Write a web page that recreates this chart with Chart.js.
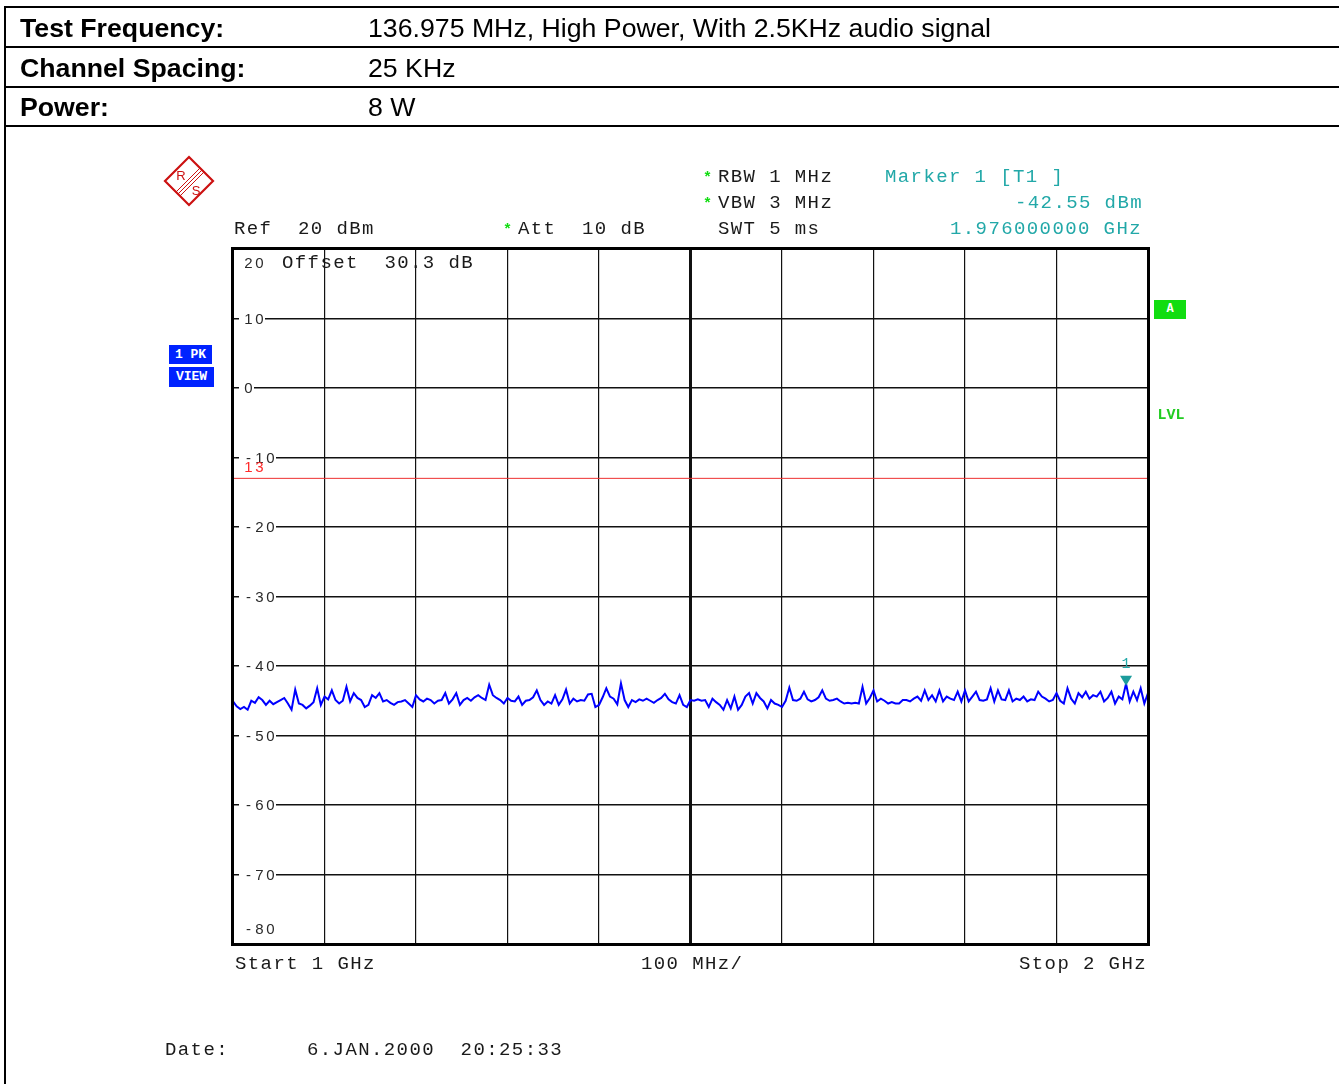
<!DOCTYPE html>
<html>
<head>
<meta charset="utf-8">
<script src="https://cdn.jsdelivr.net/npm/chart.js@4"></script>
<style>
  html, body { margin: 0; padding: 0; background: #fff; }
  body { width: 1339px; height: 1084px; position: relative; overflow: hidden; }
  #plot { position: absolute; left: 0; top: 0; z-index: 0; }
  .rule { position: absolute; background: #000; z-index: 1; }
  .hd { position: absolute; z-index: 2; font-family: "Liberation Sans", Arial, sans-serif; font-size: 26.7px; line-height: 26px; color: #000; white-space: pre; }
  .hd b { font-weight: bold; }
  .m { position: absolute; z-index: 2; font-family: "Liberation Mono", monospace; font-size: 19px; line-height: 19px; letter-spacing: 1.4px; white-space: pre; color: #1a1a1a; }
  .teal { color: #22a8a8; }
  .star { position: absolute; z-index: 2; font-family: "Liberation Mono", monospace; font-size: 15px; line-height: 15px; font-weight: bold; color: #11dd11; }
  .tag { position: absolute; z-index: 2; font-family: "Liberation Mono", monospace; font-weight: bold; color: #fff; text-align: center; white-space: pre; }
</style>
</head>
<body>
<canvas id="plot" width="1339" height="1084"></canvas>

<!-- header table -->
<div class="rule" style="left:4px;top:6px;width:1335px;height:2px"></div>
<div class="rule" style="left:4px;top:46px;width:1335px;height:2px"></div>
<div class="rule" style="left:4px;top:86px;width:1335px;height:2px"></div>
<div class="rule" style="left:4px;top:125px;width:1335px;height:2px"></div>
<div class="rule" style="left:4px;top:6px;width:2px;height:1078px"></div>
<div class="hd" style="left:20px;top:15px"><b>Test Frequency:</b></div>
<div class="hd" style="left:368px;top:15px">136.975 MHz, High Power, With 2.5KHz audio signal</div>
<div class="hd" style="left:20px;top:55px"><b>Channel Spacing:</b></div>
<div class="hd" style="left:368px;top:55px">25 KHz</div>
<div class="hd" style="left:20px;top:94px"><b>Power:</b></div>
<div class="hd" style="left:368px;top:94px">8 W</div>

<!-- instrument logo -->
<svg style="position:absolute;left:160px;top:152px;z-index:2" width="60" height="60" viewBox="160 152 60 60">
  <polygon points="189,157 213,181 189,205 165,181" fill="none" stroke="#cc1111" stroke-width="2.2"/>
  <line x1="200" y1="168" x2="176" y2="192" stroke="#cc1111" stroke-width="1"/>
  <line x1="202" y1="170" x2="178" y2="194" stroke="#cc1111" stroke-width="1"/>
  <line x1="204" y1="172" x2="180" y2="196" stroke="#cc1111" stroke-width="1"/>
  <text x="181" y="180" font-family="Liberation Sans, Arial" font-size="13" fill="#cc1111" text-anchor="middle">R</text>
  <text x="196" y="195" font-family="Liberation Sans, Arial" font-size="13" fill="#cc1111" text-anchor="middle">S</text>
</svg>

<!-- settings -->
<div class="star" style="left:703px;top:171px">*</div>
<div class="star" style="left:703px;top:197px">*</div>
<div class="star" style="left:503px;top:223px">*</div>
<div class="m" style="left:718px;top:167.6px">RBW 1 MHz</div>
<div class="m" style="left:718px;top:193.6px">VBW 3 MHz</div>
<div class="m" style="left:718px;top:219.6px">SWT 5 ms</div>
<div class="m" style="left:234px;top:219.6px">Ref  20 dBm</div>
<div class="m" style="left:518px;top:219.6px">Att  10 dB</div>
<div class="m teal" style="left:885px;top:167.6px">Marker 1 [T1 ]</div>
<div class="m teal" id="mkLevel" style="left:1015px;top:193.6px"></div>
<div class="m teal" id="mkFreq" style="left:950px;top:219.6px"></div>
<div class="m" style="left:282px;top:253.6px">Offset  30.3 dB</div>

<div class="tag" style="left:169px;top:345px;width:43px;height:19px;line-height:19px;font-size:13px;background:#0022ff">1 PK</div>
<div class="tag" style="left:169px;top:367px;width:45px;height:20px;line-height:20px;font-size:13px;background:#0022ff">VIEW</div>
<div class="tag" style="left:1154px;top:300px;width:32px;height:19px;line-height:19px;font-size:12px;background:#11dd11">A</div>
<div class="tag" style="left:1152px;top:406px;width:38px;height:20px;line-height:20px;font-size:15px;color:#22cc22">LVL</div>

<div class="m" style="left:235px;top:954.6px">Start 1 GHz</div>
<div class="m" style="left:641px;top:954.6px">100 MHz/</div>
<div class="m" style="left:1019px;top:954.6px">Stop 2 GHz</div>
<div class="m" style="left:165px;top:1040.6px">Date:</div>
<div class="m" style="left:307px;top:1040.6px">6.JAN.2000  20:25:33</div>

<script>
// Sweep settings (MHz) and level axis (dBm)
const sweepStartMHz = 1000;
const sweepStopMHz = 2000;
const sweepStepMHz = 4;
const levelTicks = [20, 10, 0, -10, -20, -30, -40, -50, -60, -70, -80];
const limitLineDbm = -13;
const limitLineName = '13';

// Trace 1, max peak, one value per sweep step
const traceLevels = [
  -45.1, -45.8, -46.2, -45.9, -46.3, -45.0, -45.3, -44.5, -44.9, -45.6,
  -45.0, -45.5, -45.2, -44.9, -44.6, -45.4, -46.3, -43.4, -45.4, -45.6,
  -46.1, -45.7, -45.2, -43.2, -45.6, -44.4, -44.8, -43.5, -44.9, -45.4,
  -45.0, -43.0, -45.1, -43.9, -44.6, -44.9, -45.9, -45.6, -44.2, -44.6,
  -43.9, -45.1, -44.9, -45.3, -45.6, -45.2, -45.1, -44.9, -45.4, -45.9,
  -44.2, -44.8, -45.1, -44.7, -44.9, -45.4, -45.0, -44.9, -43.9, -45.4,
  -44.8, -43.9, -45.6, -44.9, -44.6, -45.0, -44.5, -44.2, -44.6, -44.9,
  -42.7, -44.2, -44.6, -44.9, -45.4, -44.6, -45.0, -45.1, -44.4, -45.6,
  -45.0, -44.9, -44.5, -43.5, -44.9, -45.6, -45.1, -45.4, -44.2, -45.6,
  -44.8, -43.4, -45.4, -44.7, -45.1, -44.9, -45.0, -44.1, -44.0, -45.9,
  -45.6, -44.5, -43.2, -44.4, -44.7, -45.5, -42.5, -44.9, -45.9, -44.9,
  -45.2, -44.8, -45.0, -44.7, -45.0, -45.3, -44.9, -44.6, -44.0, -44.8,
  -45.2, -45.4, -44.2, -45.6, -45.9, -44.9, -45.0, -44.8, -45.0, -44.9,
  -45.9, -44.7, -45.2, -45.6, -46.3, -44.9, -46.1, -44.4, -46.3, -45.6,
  -44.4, -43.9, -45.4, -43.9, -44.6, -45.1, -46.1, -44.9, -45.4, -45.6,
  -45.9, -45.0, -43.1, -44.9, -45.0, -44.7, -43.7, -44.8, -45.1, -44.9,
  -44.5, -43.5, -44.7, -45.0, -44.9, -44.7, -45.1, -45.4, -45.3, -45.4,
  -45.3, -45.4, -43.0, -45.4, -44.6, -43.5, -45.1, -44.7, -45.0, -45.4,
  -45.2, -45.4, -45.4, -44.9, -44.9, -45.1, -44.7, -44.4, -45.0, -43.5,
  -44.9, -44.2, -45.1, -43.5, -45.1, -44.4, -44.7, -44.9, -43.7, -45.1,
  -43.5, -45.1, -44.4, -43.7, -44.9, -45.0, -44.8, -43.2, -45.1, -43.5,
  -44.8, -44.9, -43.5, -45.1, -44.7, -44.9, -44.4, -45.1, -44.8, -44.9,
  -43.7, -44.4, -44.7, -45.1, -44.9, -43.9, -45.0, -45.4, -43.2, -44.7,
  -45.4, -43.9, -44.5, -43.7, -44.7, -44.2, -44.4, -43.7, -45.1, -44.6,
  -43.7, -45.4, -44.4, -44.8, -42.55, -45.1, -43.7, -44.9, -43.2, -45.4,
  -43.9
];

// Marker 1 on trace 1
const markerFreqMHz = 1976;
const markerLevelDbm = -42.55;
const markerName = '1';

document.getElementById('mkLevel').textContent = markerLevelDbm.toFixed(2) + ' dBm';
document.getElementById('mkFreq').textContent = (markerFreqMHz / 1000).toFixed(9) + ' GHz';

const traceData = traceLevels.map((v, i) => ({ x: sweepStartMHz + i * sweepStepMHz, y: v }));
const centerMHz = (sweepStartMHz + sweepStopMHz) / 2;

// level labels drawn inside the grid, one fixed-width cell per character
function drawCells(ctx, text, x0, yMid, color, cut) {
  const cell = 11;
  if (cut) {
    ctx.fillStyle = '#fff';
    ctx.fillRect(x0 - 4, yMid - 7, text.length * cell + 4, 14);
  }
  ctx.fillStyle = color;
  [...text].forEach((ch, i) => ctx.fillText(ch, x0 + cell * i + cell / 2, yMid));
}

const panelPlugin = {
  id: 'panel',
  afterDraw(chart) {
    const { ctx, chartArea: a, scales: { x, y } } = chart;
    ctx.save();
    ctx.font = '15px "Liberation Sans", Arial, sans-serif';
    ctx.textAlign = 'center';
    ctx.textBaseline = 'middle';
    const x0 = a.left + 10;
    levelTicks.forEach((v, i) => {
      let py = y.getPixelForValue(v);
      const edge = i === 0 || i === levelTicks.length - 1;
      if (i === 0) py += 14;
      if (i === levelTicks.length - 1) py -= 15;
      drawCells(ctx, String(v), x0, py + 1, '#2a2a2a', !edge);
    });
    // limit line name
    drawCells(ctx, limitLineName, x0, y.getPixelForValue(limitLineDbm) - 10, '#ff2a2a', false);

    // marker 1 symbol
    const mx = x.getPixelForValue(markerFreqMHz);
    const my = y.getPixelForValue(markerLevelDbm);
    ctx.fillStyle = '#1c9c9c';
    ctx.beginPath();
    ctx.moveTo(mx, my + 2);
    ctx.lineTo(mx - 6, my - 8);
    ctx.lineTo(mx + 6, my - 8);
    ctx.closePath();
    ctx.fill();
    ctx.font = '15px "Liberation Mono", monospace';
    ctx.fillStyle = '#22a8a8';
    ctx.fillText(markerName, mx, my - 20);

    // display frame
    ctx.strokeStyle = '#000';
    ctx.lineWidth = 3;
    ctx.strokeRect(a.left - 0.5, a.top - 0.5, a.right - a.left + 1, a.bottom - a.top + 1);
    ctx.restore();
  }
};

new Chart(document.getElementById('plot'), {
  type: 'line',
  data: {
    datasets: [
      {
        label: 'Trace 1',
        data: traceData,
        borderColor: '#0000ff',
        borderWidth: 2,
        pointRadius: 0,
        tension: 0,
        order: 1
      },
      {
        label: 'Limit',
        data: [{ x: sweepStartMHz, y: limitLineDbm }, { x: sweepStopMHz, y: limitLineDbm }],
        borderColor: '#ee3030',
        borderWidth: 1,
        pointRadius: 0,
        order: 2
      }
    ]
  },
  options: {
    responsive: false,
    animation: false,
    devicePixelRatio: 1,
    layout: { padding: { left: 233, top: 249, right: 191, bottom: 140 } },
    plugins: { legend: { display: false }, tooltip: { enabled: false } },
    scales: {
      x: {
        type: 'linear',
        min: sweepStartMHz,
        max: sweepStopMHz,
        ticks: { display: false, stepSize: 100 },
        grid: {
          color: '#111',
          lineWidth: c => (c.tick && c.tick.value === centerMHz ? 3 : 1.2),
          drawTicks: false
        },
        border: { display: false }
      },
      y: {
        type: 'linear',
        min: levelTicks[levelTicks.length - 1],
        max: levelTicks[0],
        ticks: { display: false, stepSize: 10 },
        grid: { color: '#111', lineWidth: 1.5, drawTicks: false },
        border: { display: false }
      }
    }
  },
  plugins: [panelPlugin]
});
</script>
</body>
</html>
